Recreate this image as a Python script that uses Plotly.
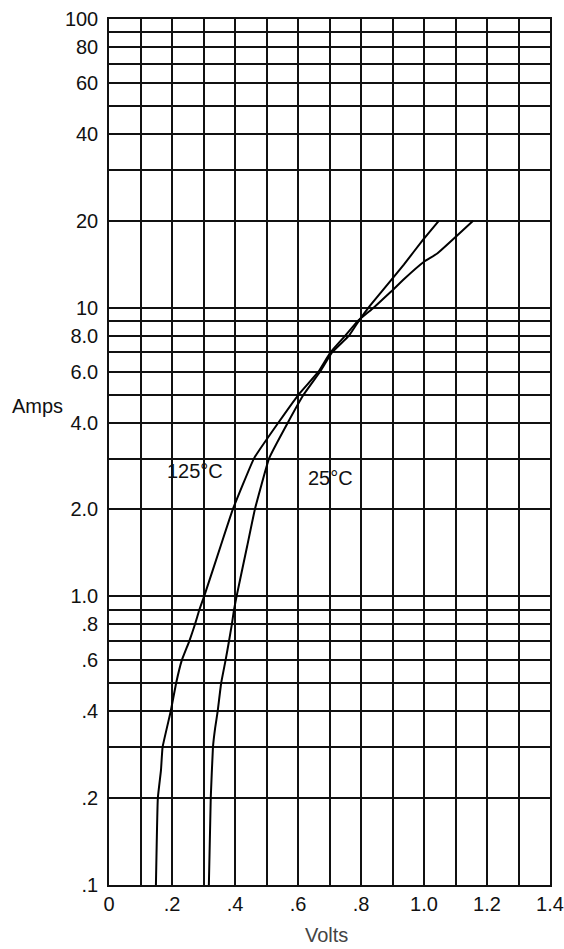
import math
import plotly.graph_objects as go

# 125°C curve (Amps vs Volts)
amps_125 = [0.1, 0.2, 0.25, 0.3, 0.4, 0.5, 0.6, 0.7, 0.8, 0.9, 1.0, 1.5, 2.0, 3.0,
            4.0, 5.0, 6.0, 7.0, 8.0, 9.0, 10.0, 11.3, 12.55, 14.4, 15.4, 20.0]
volts_125 = [0.149, 0.155, 0.165, 0.170, 0.196, 0.213, 0.231, 0.255, 0.273, 0.287,
             0.302, 0.355, 0.393, 0.460, 0.538, 0.602, 0.665, 0.703, 0.750, 0.790,
             0.840, 0.893, 0.936, 0.999, 1.042, 1.156]

# 25°C curve
amps_25 = [0.1, 0.2, 0.3, 0.35, 0.4, 0.5, 0.6, 0.7, 0.8, 0.9, 1.0, 1.5, 2.0, 3.0,
           4.0, 5.0, 6.0, 7.0, 8.0, 9.0, 10.2, 12.35, 14.1, 17.3, 20.0]
volts_25 = [0.317, 0.323, 0.330, 0.337, 0.345, 0.356, 0.370, 0.381, 0.390, 0.397,
            0.405, 0.439, 0.463, 0.508, 0.568, 0.618, 0.670, 0.708, 0.762, 0.793,
            0.830, 0.893, 0.936, 0.999, 1.047]

x_tickvals = [0.0, 0.1, 0.2, 0.3, 0.4, 0.5, 0.6, 0.7, 0.8, 0.9, 1.0, 1.1, 1.2, 1.3, 1.4]
x_ticktext = ["0", "", ".2", "", ".4", "", ".6", "", ".8", "", "1.0", "", "1.2", "", "1.4"]

y_tickvals = [0.1, 0.2, 0.3, 0.4, 0.5, 0.6, 0.7, 0.8, 0.9,
              1, 2, 3, 4, 5, 6, 7, 8, 9,
              10, 20, 30, 40, 50, 60, 70, 80, 90, 100]
y_ticktext = [".1", ".2", "", ".4", "", ".6", "", ".8", "",
              "1.0", "2.0", "", "4.0", "", "6.0", "", "8.0", "",
              "10", "20", "", "40", "", "60", "", "80", "", "100"]

FONT = "Liberation Sans, Arial, sans-serif"
LINE = "#111"
FS = 20

fig = go.Figure()
fig.add_trace(go.Scatter(x=volts_125, y=amps_125, mode="lines", name="125°C",
                         line=dict(color="black", width=2, shape="spline", smoothing=0.3)))
fig.add_trace(go.Scatter(x=volts_25, y=amps_25, mode="lines", name="25°C",
                         line=dict(color="black", width=2, shape="spline", smoothing=0.3)))

fig.add_annotation(x=0.273, y=math.log10(2.72), xref="x", yref="y", text="125°C",
                   showarrow=False, font=dict(family=FONT, size=FS, color="#111"))
fig.add_annotation(x=0.703, y=math.log10(2.57), xref="x", yref="y", text="25°C",
                   showarrow=False, font=dict(family=FONT, size=FS, color="#111"))
fig.add_annotation(x=-0.163, y=0.553, xref="paper", yref="paper", text="Amps",
                   showarrow=False, xanchor="center", yanchor="middle",
                   font=dict(family=FONT, size=FS, color="#111"))
fig.add_annotation(x=0.494, y=-0.0577, xref="paper", yref="paper", text="Volts",
                   showarrow=False, xanchor="center", yanchor="middle",
                   font=dict(family=FONT, size=FS, color="#444"))

fig.update_layout(
    width=564, height=949,
    margin=dict(l=109, r=14, t=19, b=64, autoexpand=False),
    paper_bgcolor="white", plot_bgcolor="white",
    showlegend=False,
    font=dict(family=FONT, size=FS, color="#111"),
    xaxis=dict(range=[0, 1.4], tickvals=x_tickvals, ticktext=x_ticktext,
               showgrid=True, gridcolor=LINE, gridwidth=1.5,
               showline=True, linecolor=LINE, linewidth=1.5, mirror=True,
               ticks="", zeroline=False, tickfont=dict(size=FS), automargin=False),
    yaxis=dict(type="log", range=[-1, 2], tickvals=y_tickvals, ticktext=y_ticktext,
               showgrid=True, gridcolor=LINE, gridwidth=1.5,
               showline=True, linecolor=LINE, linewidth=1.5, mirror=True,
               ticks="", zeroline=False, tickfont=dict(size=FS), automargin=False,
               ticklabelstandoff=5),
)

fig.write_html("out.html",
               config={"displayModeBar": False},
               post_script="document.body.style.margin='0';"
                           "document.body.style.overflow='hidden';")
